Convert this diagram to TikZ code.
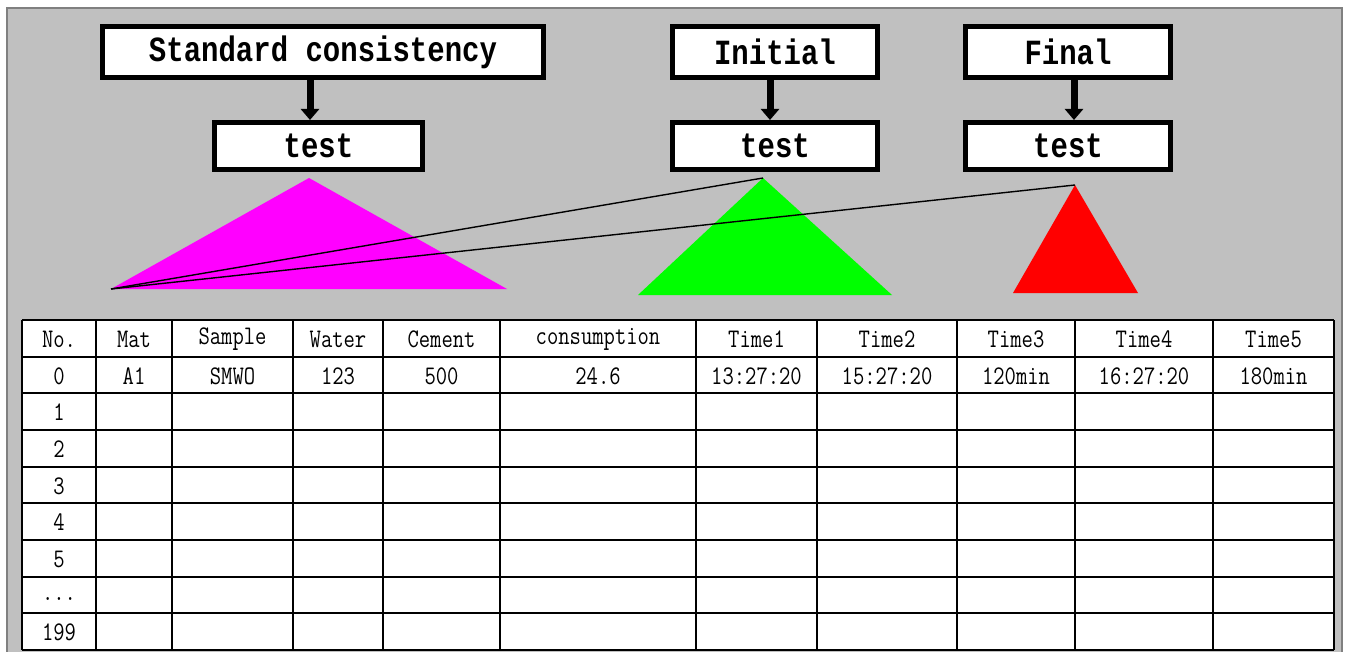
\documentclass[tikz,border=0pt]{standalone}
\usepackage{fontspec}
\usepackage{graphicx}
\newfontfamily\boxfont{Liberation Mono}
\newfontfamily\cellfont{Latin Modern Mono}
\usetikzlibrary{arrows.meta}
\definecolor{panelgray}{RGB}{192,192,192}
\definecolor{paneledge}{RGB}{128,128,128}
\definecolor{tmagenta}{RGB}{255,0,255}
\definecolor{tgreen}{RGB}{0,255,0}
\definecolor{tred}{RGB}{255,0,0}
\newcommand\tallt[1]{\scalebox{1}[1.22]{#1}}
\begin{document}
\begin{tikzpicture}[x=1pt,y=-1pt,
  hbox/.style={draw=black, line width=5pt, fill=white, inner sep=0pt,
    font=\boxfont\bfseries\fontsize{29}{30}\selectfont},
  bigarrow/.style={line width=7pt, -{Triangle[width=18pt,length=11pt]}},
  cell/.style={font=\cellfont\fontsize{22}{24}\selectfont, inner sep=0pt},
  grid/.style={line width=2pt, black},
  link/.style={line width=1.4pt, black}]
\useasboundingbox (0,0) rectangle (1346,652);
\fill[white] (0,0) rectangle (1346,652);
\filldraw[fill=panelgray, draw=paneledge, line width=1.5pt] (7,8) rectangle (1342,662);

% header boxes
\node[hbox, minimum width=441pt, minimum height=51pt] (std) at (323,52) {\tallt{Standard consistency}};
\node[hbox, minimum width=208pt, minimum height=47pt] (t1) at (318.5,146) {\tallt{test}};
\node[hbox, minimum width=205pt, minimum height=51pt] (ini) at (775,52) {\tallt{Initial}};
\node[hbox, minimum width=205pt, minimum height=47pt] (t2) at (775,146) {\tallt{test}};
\node[hbox, minimum width=205pt, minimum height=51pt] (fin) at (1068,52) {\tallt{Final}};
\node[hbox, minimum width=205pt, minimum height=47pt] (t3) at (1068,146) {\tallt{test}};

\coordinate (a1) at (310,0);
\coordinate (a2) at (770,0);
\coordinate (a3) at (1074,0);
\draw[bigarrow] (std.south -| a1) -- (t1.north -| a1);
\draw[bigarrow] (ini.south -| a2) -- (t2.north -| a2);
\draw[bigarrow] (fin.south -| a3) -- (t3.north -| a3);

% triangles
\coordinate (mA) at (309,178);
\coordinate (mL) at (111,289);
\coordinate (mR) at (507,289);
\coordinate (gA) at (763,178);
\coordinate (gL) at (638,295);
\coordinate (gR) at (892,295);
\coordinate (rA) at (1075,185);
\coordinate (rL) at (1013,293);
\coordinate (rR) at (1138,293);
\fill[tmagenta] (mA) -- (mL) -- (mR) -- cycle;
\fill[tgreen] (gA) -- (gL) -- (gR) -- cycle;
\fill[tred] (rA) -- (rL) -- (rR) -- cycle;
\draw[link] (mL) -- (gA);
\draw[link] (mL) -- (rA);

% table
\fill[white] (22,320) rectangle (1334,650);
\foreach \yy in {320,356.7,393.3,430,466.7,503.3,540,576.7,613.3,650}
  \draw[grid] (22,\yy) -- (1334,\yy);
\foreach \xx in {22,96,172,293,383,500,696,817,957,1075,1213,1334}
  \draw[grid] (\xx,320) -- (\xx,650);

\foreach \cx/\t [count=\i] in {59/No., 134/Mat, 232.5/Sample, 338/Water, 441.5/Cement, 598/consumption, 756.5/Time1, 887/Time2, 1016/Time3, 1144/Time4, 1273.5/Time5}
  \node[cell] (h\i) at (\cx,339) {\tallt{\t}};
\foreach \cx/\t [count=\i] in {59/0, 134/A1, 232.5/SMWO, 338/123, 441.5/500, 598/24.6, 756.5/13:27:20, 887/15:27:20, 1016/120min, 1144/16:27:20, 1273.5/180min}
  \node[cell] (r\i) at (\cx,376) {\tallt{\t}};
\foreach \cy/\t [count=\i] in {412.5/1, 449.2/2, 485.8/3, 522.5/4, 559.2/5, 599/{...}, 632.5/199}
  \node[cell] (n\i) at (59,\cy) {\tallt{\t}};
\end{tikzpicture}
\end{document}
